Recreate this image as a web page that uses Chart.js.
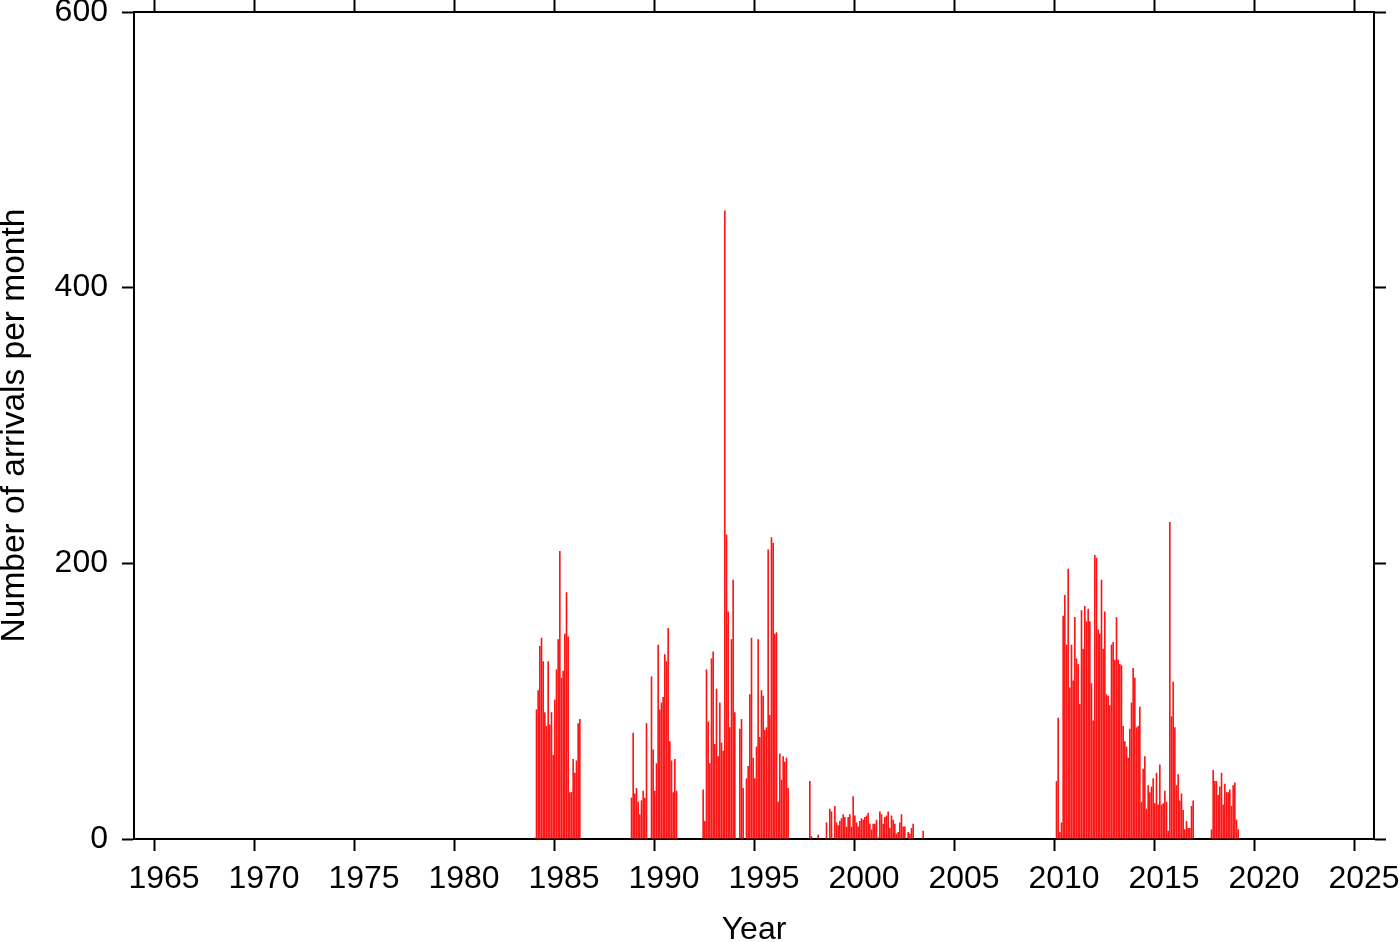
<!DOCTYPE html>
<html>
<head>
<meta charset="utf-8">
<title>Arrivals per month</title>
<script src="https://cdn.jsdelivr.net/npm/chart.js@4.4.1/dist/chart.umd.min.js"></script>
<style>
  html, body { margin: 0; padding: 0; background: #fff; }
  canvas { display: block; }
</style>
</head>
<body>
<canvas id="arrivalsChart" width="1400" height="942"></canvas>
<script>
// monthly arrival counts, one array per active period (first entry = start month)
const counts1984 = [1, 94, 108, 140, 146, 129, 92, 82, 129, 83, 92, 61,
  101, 123, 145, 209, 117, 122, 149, 179, 147, 34, 34, 58,
  48, 57, 84, 87];
const counts1988 = [30, 77,
  33, 37, 27, 18, 28, 35, 30, 84, 0, 0, 118, 65,
  35, 55, 141, 94, 99, 103, 134, 129, 153, 71, 57, 34,
  58, 35];
const counts1992 = [36, 13, 123, 85, 55, 131, 136,
  69, 109, 60, 99, 70, 64, 456, 221, 165, 81, 145, 188,
  92, 0, 0, 80, 87, 37, 0, 44, 53, 105, 146, 59,
  44, 67, 145, 74, 108, 104, 79, 81, 210, 90, 219, 215,
  149, 150, 27, 62, 43, 60, 56, 59, 37];
const counts1997 = [42, 2, 0,
  0, 0, 3, 0, 0, 0, 0, 12, 0, 22, 20, 0,
  24, 12, 10, 13, 15, 18, 16, 9, 16, 18, 9, 31,
  17, 12, 9, 13, 15, 14, 16, 17, 19, 11, 7, 11,
  11, 14, 1, 20, 18, 11, 16, 17, 20, 8, 17, 14,
  11, 4, 5, 12, 18, 9, 9, 0, 5, 4, 8, 11,
  0, 0, 0, 0, 0, 6];
const counts2010 = [0, 42, 88, 5, 12, 162, 177, 141, 196, 110, 141, 115,
  161, 131, 127, 98, 166, 138, 169, 158, 167, 158, 113, 86,
  206, 204, 152, 149, 188, 138, 165, 105, 104, 97, 141, 143,
  130, 161, 130, 127, 126, 82, 71, 67, 59, 80, 99, 124,
  117, 81, 82, 96, 27, 51, 60, 22, 39, 34, 38, 44,
  26, 48, 25, 54, 25, 26, 35, 27, 6, 230, 89, 114,
  81, 39, 47, 28, 33, 21, 7, 13, 8, 8, 24, 28];
const counts2017 = [7, 50,
  42, 42, 32, 38, 48, 25, 40, 34, 34, 36, 24, 39,
  41, 14, 7];

const periods = [
  { year: 1984, month: 1, counts: counts1984 },
  { year: 1988, month: 11, counts: counts1988 },
  { year: 1992, month: 6, counts: counts1992 },
  { year: 1997, month: 10, counts: counts1997 },
  { year: 2010, month: 1, counts: counts2010 },
  { year: 2017, month: 11, counts: counts2017 }
];

const yearTicks = [1965, 1970, 1975, 1980, 1985, 1990, 1995, 2000, 2005, 2010, 2015, 2020, 2025];
const countTicks = [0, 200, 400, 600];

// one bar per month, centred in its month
const points = [];
periods.forEach(p => {
  p.counts.forEach((n, i) => {
    points.push({ x: p.year + (p.month - 1 + i + 0.5) / 12, y: n });
  });
});

const ctx = document.getElementById('arrivalsChart').getContext('2d');
const font = { family: "'Liberation Sans', Arial, Helvetica, sans-serif", size: 32 };

const gridStyle = {
  offset: false,
  drawOnChartArea: false,
  drawTicks: true,
  tickLength: 12,
  tickWidth: 2,
  tickColor: '#000',
  color: '#000'
};
const borderStyle = { display: true, color: '#000', width: 2 };

// lock the axis boxes so the plot frame sits where the original one does
function fixSize(prop, px) {
  return scale => {
    scale[prop] = px;
    scale.paddingLeft = 0;
    scale.paddingRight = 0;
    scale.paddingTop = 0;
    scale.paddingBottom = 0;
  };
}
const useYears = scale => { scale.ticks = yearTicks.map(v => ({ value: v })); };
const useCounts = scale => { scale.ticks = countTicks.map(v => ({ value: v })); };

let arrivalsChart = new Chart(ctx, {
  type: 'bar',
  data: {
    datasets: [{
      label: 'Arrivals per month',
      data: points,
      backgroundColor: '#fa1414',
      borderWidth: 0,
      barPercentage: 0.97,
      categoryPercentage: 1,
      xAxisID: 'x',
      yAxisID: 'y'
    }]
  },
  options: {
    responsive: false,
    animation: false,
    layout: { padding: 0 },
    plugins: {
      legend: { display: false },
      tooltip: { enabled: false }
    },
    scales: {
      x: {
        type: 'linear',
        position: 'bottom',
        min: 1964,
        max: 2026,
        offset: false,
        z: 1,
        afterBuildTicks: useYears,
        afterFit: fixSize('height', 103),
        grid: gridStyle,
        border: borderStyle,
        ticks: {
          color: '#000',
          font: font,
          padding: 9,
          labelOffset: 10,
          maxRotation: 0,
          autoSkip: false,
          callback: v => String(v)
        },
        title: {
          display: true,
          text: 'Year',
          color: '#000',
          font: { ...font, lineHeight: 0.72 },
          padding: 0
        }
      },
      xTop: {
        type: 'linear',
        position: 'top',
        min: 1964,
        max: 2026,
        offset: false,
        z: 1,
        afterBuildTicks: useYears,
        afterFit: fixSize('height', 12),
        grid: gridStyle,
        border: borderStyle,
        ticks: { display: false }
      },
      y: {
        type: 'linear',
        position: 'left',
        min: 0,
        max: 600,
        z: 1,
        afterBuildTicks: useCounts,
        afterFit: fixSize('width', 134),
        grid: gridStyle,
        border: borderStyle,
        ticks: { color: '#000', font: font, padding: 14 },
        title: {
          display: true,
          text: 'Number of arrivals per month',
          color: '#000',
          font: { ...font, size: 33.5, lineHeight: 0.9 },
          padding: 0
        }
      },
      yRight: {
        type: 'linear',
        position: 'right',
        min: 0,
        max: 600,
        z: 1,
        afterBuildTicks: useCounts,
        afterFit: fixSize('width', 26),
        grid: gridStyle,
        border: borderStyle,
        ticks: { display: false }
      }
    }
  }
});
</script>
</body>
</html>
